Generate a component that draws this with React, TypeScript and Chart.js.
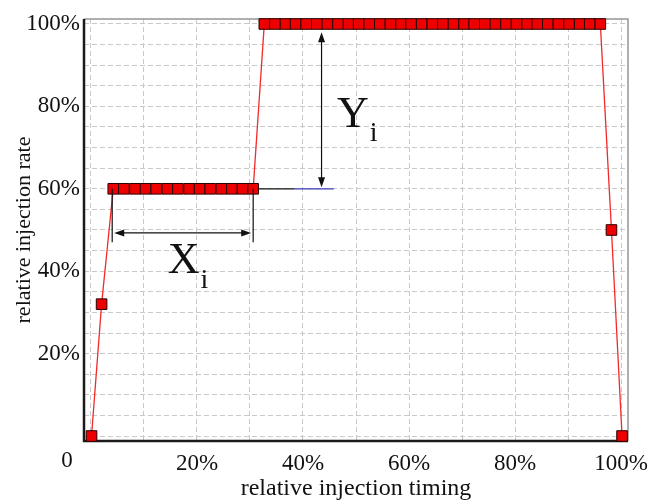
import React, { useEffect, useRef } from 'react';
import { Chart, registerables } from 'chart.js';

Chart.register(...registerables);

// ---------------- data ----------------
const timing = [
  0.1, 2.0,
  4.2, 6.2, 8.3, 10.3, 12.3, 14.4, 16.4, 18.5, 20.5, 22.5, 24.6, 26.6, 28.6, 30.6,
  32.7, 34.7, 36.7, 38.6, 40.6, 42.6, 44.6, 46.6, 48.6, 50.5, 52.5, 54.5, 56.5, 58.5, 60.4, 62.4, 64.4,
  66.4, 68.4, 70.4, 72.3, 74.3, 76.3, 78.3, 80.3, 82.3, 84.2, 86.2, 88.2, 90.2, 92.2, 94.1, 96.1,
  98.2, 100.2,
];
const rate = [
  0, 32,
  60, 60, 60, 60, 60, 60, 60, 60, 60, 60, 60, 60, 60, 60,
  100, 100, 100, 100, 100, 100, 100, 100, 100, 100, 100, 100, 100, 100, 100, 100, 100,
  100, 100, 100, 100, 100, 100, 100, 100, 100, 100, 100, 100, 100, 100, 100, 100,
  50, 0,
];
const xGridValues = [0, 10, 20, 30, 40, 50, 60, 70, 80, 90, 100];
const xLabelValues = [20, 40, 60, 80, 100];
const yGridValues = [0, 5, 10, 15, 20, 25, 30, 35, 40, 45, 50, 55, 60, 65, 70, 75, 80, 85, 90, 95, 100];
const yLabelValues = [20, 40, 60, 80, 100];
const originLabel = '0';
const xTitle = 'relative injection timing';
const yTitle = 'relative injection rate';

// annotation anchors (data units)
const lowLevel = 60;
const levelLineEnds = [31.6, 38.3, 45.8]; // black part, then blue part
const yiArrowX = 43.5;
const yiArrowSpan = [98, 60.4];
const xiBounds = [4, 30.6];
const xiTickBottom = 47;
const xiArrowY = 49.3;
const xiLabelPos = [14.5, 39.6];
const yiLabelPos = [46.4, 75];

const SERIF = "'Liberation Serif', 'Times New Roman', serif";

const annotationPlugin = {
  id: 'frameAndAnnotations',
  beforeDatasetsDraw(chart: any) {
    const { ctx, chartArea } = chart;
    const { left, right, top, bottom } = chartArea;
    ctx.save();
    ctx.strokeStyle = '#959595';
    ctx.lineWidth = 1.5;
    ctx.beginPath();
    ctx.moveTo(left, top);
    ctx.lineTo(right, top);
    ctx.lineTo(right, bottom);
    ctx.stroke();
    ctx.strokeStyle = '#1a1a1a';
    ctx.lineWidth = 2.5;
    ctx.beginPath();
    ctx.moveTo(left, top);
    ctx.lineTo(left, bottom);
    ctx.lineTo(right, bottom);
    ctx.stroke();
    ctx.restore();
  },
  afterDatasetsDraw(chart: any) {
    const { ctx } = chart;
    const xs = chart.scales.x;
    const ys = chart.scales.y;
    const X = (v: number) => xs.getPixelForValue(v);
    const Y = (v: number) => ys.getPixelForValue(v);
    const line = (x1: number, y1: number, x2: number, y2: number) => {
      ctx.beginPath();
      ctx.moveTo(x1, y1);
      ctx.lineTo(x2, y2);
      ctx.stroke();
    };
    const head = (tx: number, ty: number, dx: number, dy: number) => {
      const L = 10, W = 3.5;
      const px = -dy, py = dx;
      ctx.beginPath();
      ctx.moveTo(tx, ty);
      ctx.lineTo(tx - dx * L + px * W, ty - dy * L + py * W);
      ctx.lineTo(tx - dx * L - px * W, ty - dy * L - py * W);
      ctx.closePath();
      ctx.fill();
    };
    ctx.save();
    ctx.fillStyle = '#111';
    ctx.strokeStyle = '#111';
    ctx.lineWidth = 1.2;
    // level line at 60%
    line(X(levelLineEnds[0]), Y(lowLevel), X(levelLineEnds[1]), Y(lowLevel));
    ctx.strokeStyle = '#3a3ab8';
    line(X(levelLineEnds[1]), Y(lowLevel), X(levelLineEnds[2]), Y(lowLevel));
    ctx.strokeStyle = '#111';
    // Yi arrow
    const ax = X(yiArrowX);
    const aTop = Y(yiArrowSpan[0]);
    const aBot = Y(yiArrowSpan[1]);
    line(ax, aTop + 4, ax, aBot - 4);
    head(ax, aTop, 0, -1);
    head(ax, aBot, 0, 1);
    // Xi ticks and arrow
    line(X(xiBounds[0]), Y(lowLevel), X(xiBounds[0]), Y(xiTickBottom));
    line(X(xiBounds[1]), Y(lowLevel), X(xiBounds[1]), Y(xiTickBottom));
    const hy = Y(xiArrowY);
    const hl = X(xiBounds[0]) + 2;
    const hr = X(xiBounds[1]) - 2;
    line(hl + 4, hy, hr - 4, hy);
    head(hl, hy, -1, 0);
    head(hr, hy, 1, 0);
    // labels
    ctx.textAlign = 'left';
    ctx.textBaseline = 'alphabetic';
    ctx.font = `44px ${SERIF}`;
    const xlx = X(xiLabelPos[0]);
    const xly = Y(xiLabelPos[1]);
    ctx.fillText('X', xlx, xly);
    const xw = ctx.measureText('X').width;
    const ylx = X(yiLabelPos[0]);
    const yly = Y(yiLabelPos[1]);
    ctx.fillText('Y', ylx, yly);
    const yw = ctx.measureText('Y').width;
    ctx.font = `28px ${SERIF}`;
    ctx.fillText('i', xlx + xw + 1, xly + 15);
    ctx.fillText('i', ylx + yw + 1, yly + 14);
    // origin label
    ctx.font = `23px ${SERIF}`;
    ctx.textAlign = 'center';
    ctx.textBaseline = 'top';
    ctx.fillText(originLabel, X(0) - 24, chart.chartArea.bottom + 8);
    ctx.restore();
  },
};

export default function App() {
  const canvasRef = useRef<HTMLCanvasElement | null>(null);

  useEffect(() => {
    if (!canvasRef.current) return;
    const points = timing.map((t, i) => ({ x: t, y: rate[i] }));
    const chart = new Chart(canvasRef.current, {
      type: 'line',
      data: {
        datasets: [
          {
            data: points,
            borderColor: '#f22a2a',
            borderWidth: 1.3,
            backgroundColor: '#ee0000',
            pointStyle: 'rect',
            pointRadius: 7.5,
            pointBackgroundColor: '#ee0000',
            pointBorderColor: '#2a0000',
            pointBorderWidth: 1,
            tension: 0,
            clip: false as any,
          },
        ],
      },
      options: {
        responsive: false,
        animation: false,
        devicePixelRatio: 1,
        layout: { padding: { top: 19, right: 21, left: 0, bottom: 0 } },
        plugins: {
          legend: { display: false },
          tooltip: { enabled: false },
        },
        scales: {
          x: {
            type: 'linear',
            min: -1.32,
            max: 101.32,
            afterBuildTicks: (s: any) => {
              s.ticks = xGridValues.map((v) => ({ value: v }));
            },
            afterFit: (s: any) => {
              s.height = 61;
              s.paddingLeft = 0;
              s.paddingRight = 0;
            },
            grid: { color: '#c9c9c9', lineWidth: 1, drawTicks: false },
            border: { display: false, dash: [5, 3] },
            ticks: {
              autoSkip: false,
              maxRotation: 0,
              padding: 9,
              color: '#111',
              font: { family: SERIF, size: 23 },
              callback: (v: any) => (xLabelValues.includes(Number(v)) ? `${v}%` : ''),
            },
            title: {
              display: true,
              text: xTitle,
              color: '#111',
              font: { family: SERIF, size: 24, lineHeight: 1 },
              padding: { top: 0, bottom: 1 },
            },
          },
          y: {
            type: 'linear',
            min: -1.21,
            max: 101.21,
            afterBuildTicks: (s: any) => {
              s.ticks = yGridValues.map((v) => ({ value: v }));
            },
            afterFit: (s: any) => {
              s.width = 84;
            },
            grid: { color: '#c9c9c9', lineWidth: 1, drawTicks: false },
            border: { display: false, dash: [5, 3] },
            ticks: {
              autoSkip: false,
              padding: 4,
              color: '#111',
              font: { family: SERIF, size: 23 },
              callback: (v: any) => (yLabelValues.includes(Number(v)) ? `${v}%` : ''),
            },
            title: {
              display: true,
              text: yTitle,
              color: '#111',
              font: { family: SERIF, size: 22, lineHeight: 1 },
              padding: { top: 13, bottom: 0 },
            },
          },
        },
      },
      plugins: [annotationPlugin],
    });
    return () => chart.destroy();
  }, []);

  return (
    <div style={{ position: 'fixed', left: 0, top: 0, width: 649, height: 502, background: '#fff' }}>
      <canvas ref={canvasRef} width={649} height={502} />
    </div>
  );
}
